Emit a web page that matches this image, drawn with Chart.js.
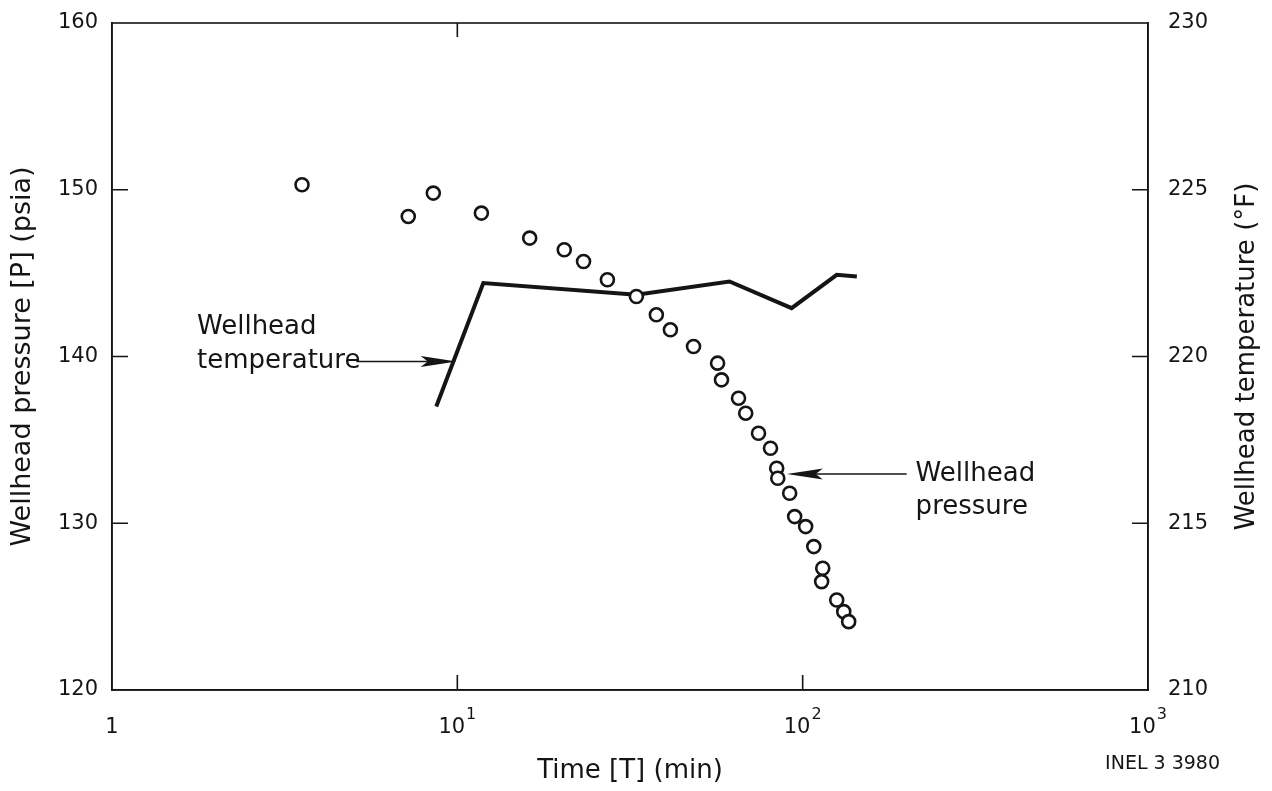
<!DOCTYPE html>
<html>
<head>
<meta charset="utf-8">
<script src="https://cdn.jsdelivr.net/npm/chart.js@4.4.0/dist/chart.umd.min.js"></script>
<style>
    html, body { margin: 0; padding: 0; background: #fff; }
</style>
</head>
<body>
<canvas id="wellChart" width="1272" height="791"></canvas>
<script>
// Wellhead pressure (circles), time in minutes
const pressureTime = [3.55, 7.21, 8.52, 11.74, 16.2, 20.4, 23.2, 27.2, 33.0, 37.7, 41.4, 48.3, 56.7, 58.2, 65.2,
    68.4, 74.5, 80.7, 84.1, 84.7, 91.7, 94.8, 102, 107.7, 114.3, 113.5, 125.5, 131.5, 135.9];
const pressureValues = [150.3, 148.4, 149.8, 148.6, 147.1, 146.4, 145.7, 144.6, 143.6, 142.5, 141.6, 140.6, 139.6, 138.6, 137.5,
    136.6, 135.4, 134.5, 133.3, 132.7, 131.8, 130.4, 129.8, 128.6, 127.3, 126.5, 125.4, 124.7, 124.1];

// Wellhead temperature (line)
const tempTime = [8.69, 11.89, 33.0, 61.4, 92.9, 125.5, 143.5];
const tempValues = [218.5, 222.2, 221.85, 222.25, 221.45, 222.45, 222.4];

// Tick labels
const xTicks = [1, 10, 100, 1000];
const xTickBase = ['1', '10', '10', '10'];
const xTickExp = ['', '1', '2', '3'];
const pressureTicks = [130, 140, 150];
const tempTicks = [215, 220, 225];

const FONT = '"DejaVu Sans", sans-serif';
const INK = '#151515';

const pressurePoints = pressureTime.map((t, i) => ({ x: t, y: pressureValues[i] }));
const tempPoints = tempTime.map((t, i) => ({ x: t, y: tempValues[i] }));

function arrow(ctx, x0, y0, x1, y1) {
    const ang = Math.atan2(y1 - y0, x1 - x0);
    const len = 36, half = 5.5;
    ctx.beginPath();
    ctx.moveTo(x0, y0);
    ctx.lineTo(x1 - Math.cos(ang) * len * 0.6, y1 - Math.sin(ang) * len * 0.6);
    ctx.lineWidth = 1.6;
    ctx.stroke();
    ctx.beginPath();
    ctx.moveTo(x1, y1);
    ctx.lineTo(x1 - Math.cos(ang) * len - Math.sin(ang) * half, y1 - Math.sin(ang) * len + Math.cos(ang) * half);
    ctx.lineTo(x1 - Math.cos(ang) * len * 0.8, y1 - Math.sin(ang) * len * 0.8);
    ctx.lineTo(x1 - Math.cos(ang) * len + Math.sin(ang) * half, y1 - Math.sin(ang) * len - Math.cos(ang) * half);
    ctx.closePath();
    ctx.fill();
}

const framePlugin = {
    id: 'frame',
    afterDraw(chart) {
        const { ctx, chartArea: a, scales } = chart;
        const x = scales.x, y = scales.y, y1 = scales.y1;
        ctx.save();
        ctx.strokeStyle = INK;
        ctx.fillStyle = INK;
        ctx.lineWidth = 1.6;
        ctx.strokeRect(a.left, a.top, a.right - a.left, a.bottom - a.top);

        // inward ticks
        ctx.beginPath();
        pressureTicks.forEach(v => {
            const py = y.getPixelForValue(v);
            ctx.moveTo(a.left, py); ctx.lineTo(a.left + 16, py);
        });
        tempTicks.forEach(v => {
            const py = y1.getPixelForValue(v);
            ctx.moveTo(a.right, py); ctx.lineTo(a.right - 16, py);
        });
        [10, 100].forEach(v => {
            const px = x.getPixelForValue(v);
            ctx.moveTo(px, a.bottom); ctx.lineTo(px, a.bottom - 15);
        });
        const px10 = x.getPixelForValue(10);
        ctx.moveTo(px10, a.top); ctx.lineTo(px10, a.top + 14);
        ctx.stroke();

        // x tick labels with exponents
        ctx.textBaseline = 'alphabetic';
        xTicks.forEach((v, i) => {
            const px = x.getPixelForValue(v);
            ctx.font = '21px ' + FONT;
            const wb = ctx.measureText(xTickBase[i]).width;
            ctx.font = '16px ' + FONT;
            const we = xTickExp[i] ? ctx.measureText(xTickExp[i]).width + 1 : 0;
            const left = px - (wb + we) / 2;
            ctx.textAlign = 'left';
            ctx.font = '21px ' + FONT;
            ctx.fillText(xTickBase[i], left, a.bottom + 43);
            if (xTickExp[i]) {
                ctx.font = '16px ' + FONT;
                ctx.fillText(xTickExp[i], left + wb + 1, a.bottom + 29);
            }
        });

        // right axis title, reading bottom to top
        ctx.save();
        ctx.translate(1247, (a.top + a.bottom) / 2);
        ctx.rotate(-Math.PI / 2);
        ctx.font = '26px ' + FONT;
        ctx.textAlign = 'center';
        ctx.textBaseline = 'middle';
        ctx.fillText('Wellhead temperature (°F)', 0, 0);
        ctx.restore();

        // annotations
        ctx.font = '26px ' + FONT;
        ctx.textAlign = 'left';
        ctx.textBaseline = 'middle';
        const tTipX = x.getPixelForValue(9.95), tTipY = y1.getPixelForValue(219.85);
        const tTailX = x.getPixelForValue(5.1);
        ctx.fillText('Wellhead', 197, tTipY - 34);
        ctx.fillText('temperature', 197, tTipY);
        arrow(ctx, tTailX, tTipY, tTipX, tTipY);

        const pTipX = x.getPixelForValue(90), pTipY = y.getPixelForValue(132.95);
        const pTailX = x.getPixelForValue(200);
        arrow(ctx, pTailX, pTipY, pTipX, pTipY);
        ctx.fillText('Wellhead', pTailX + 9, pTipY);
        ctx.fillText('pressure', pTailX + 9, pTipY + 33);

        // figure id
        ctx.font = '19px ' + FONT;
        ctx.textAlign = 'right';
        ctx.fillText('INEL 3 3980', 1220, 764);
        ctx.restore();
    }
};

// fixed axis box sizes so the plot frame lands where the original one is
function fixVertical(width) {
    return function (s) {
        s.width = width;
        s.paddingTop = 0;
        s.paddingBottom = 0;
    };
}

const ctx = document.getElementById('wellChart').getContext('2d');

new Chart(ctx, {
    type: 'scatter',
    data: {
        datasets: [{
            label: 'Wellhead pressure',
            data: pressurePoints,
            yAxisID: 'y',
            pointRadius: 6.5,
            pointBorderWidth: 2.6,
            pointBorderColor: INK,
            pointBackgroundColor: '#fff',
            order: 0
        }, {
            label: 'Wellhead temperature',
            data: tempPoints,
            yAxisID: 'y1',
            showLine: true,
            borderColor: INK,
            borderWidth: 4,
            pointRadius: 0,
            tension: 0,
            order: 1
        }]
    },
    options: {
        responsive: false,
        animation: false,
        devicePixelRatio: 1,
        layout: { padding: { top: 23, left: 0, right: 0, bottom: 0 } },
        plugins: { legend: { display: false }, tooltip: { enabled: false } },
        scales: {
            x: {
                type: 'logarithmic',
                min: 1,
                max: 1000,
                grid: { display: false, drawTicks: false },
                border: { display: true, color: INK, width: 1.6 },
                ticks: { display: false },
                title: {
                    display: true,
                    text: 'Time [T] (min)',
                    color: INK,
                    font: { family: FONT, size: 26 },
                    padding: { top: 0, bottom: 4 }
                },
                afterFit(s) { s.height = 101; s.paddingLeft = 0; s.paddingRight = 0; }
            },
            y: {
                position: 'left',
                min: 120,
                max: 160,
                grid: { display: false, drawTicks: false },
                border: { display: true, color: INK, width: 1.6 },
                ticks: { stepSize: 10, color: INK, font: { family: FONT, size: 21 }, padding: 14 },
                title: {
                    display: true,
                    text: 'Wellhead pressure [P] (psia)',
                    color: INK,
                    font: { family: FONT, size: 27 },
                    padding: { top: 7, bottom: 0 }
                },
                afterFit: fixVertical(112)
            },
            y1: {
                position: 'right',
                min: 210,
                max: 230,
                grid: { display: false, drawTicks: false },
                border: { display: true, color: INK, width: 1.6 },
                ticks: { stepSize: 5, color: INK, font: { family: FONT, size: 21 }, padding: 20 },
                afterFit: fixVertical(124)
            }
        }
    },
    plugins: [framePlugin]
});
</script>
</body>
</html>
